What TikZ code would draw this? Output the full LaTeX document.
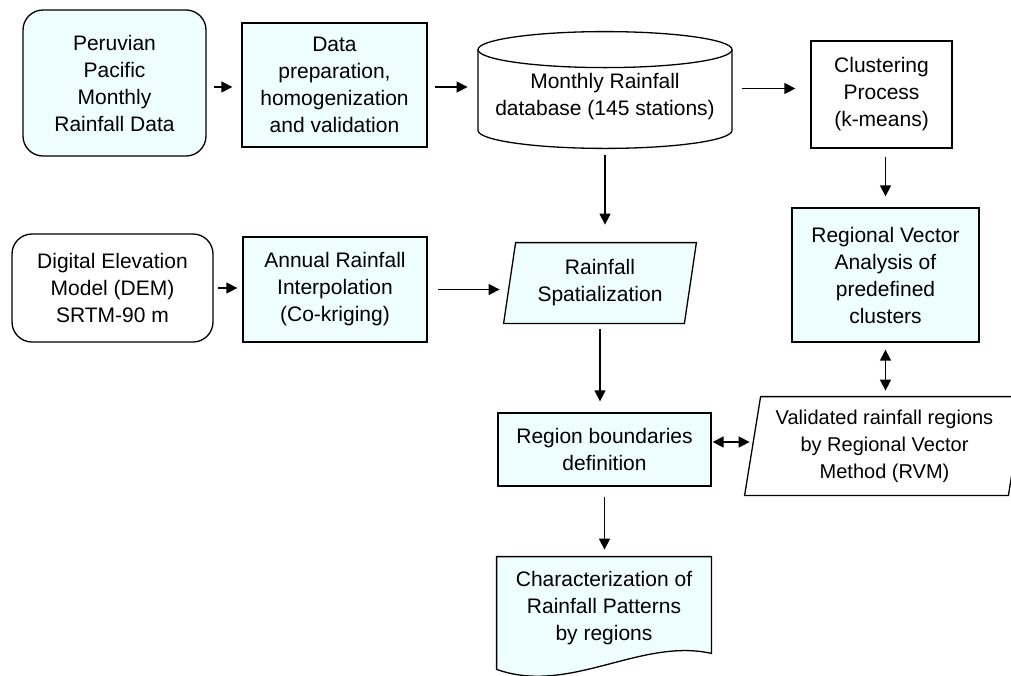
\documentclass[tikz,border=0pt]{standalone}
\usepackage{fontspec}
\setmainfont{Liberation Sans}
\usepackage{xcolor}
\usetikzlibrary{
  calc,
  positioning,
  arrows.meta,
  backgrounds
}
\definecolor{paleaqua}{RGB}{238,254,254}

\begin{document}
\begin{tikzpicture}[> ={Triangle[length=5.5pt,width=5.5pt]}, x=0.5pt, y=-0.5pt]
  \tikzset{
    bare/.style={align=center, inner sep=0pt,
      font=\fontsize{10.5}{13.5}\selectfont},
    box/.style={bare, draw, line width=0.65pt},
    shaded/.style={box, fill=paleaqua},
    outline/.style={line width=0.65pt},
    link/.style={->, line width=0.7pt},
    both/.style={<->, line width=0.7pt},
  }
  \useasboundingbox (0,0) rectangle (1011,675);
  \clip (0,0) rectangle (1011,675);

  % first row
  \node[shaded, rounded corners=10pt, minimum width=91.5pt, minimum height=73pt]
    (peru) at (114.5,83) {Peruvian\\Pacific\\Monthly\\Rainfall Data};
  \node[shaded, minimum width=92.5pt, minimum height=62pt]
    (prep) at (334.5,85) {Data\\preparation,\\homogenization\\and validation};
  \node[bare, minimum width=127pt, minimum height=57pt]
    (db) at (605,97) {Monthly Rainfall\\database (145 stations)};
  \coordinate (dbtop) at ($(db.north)+(0,10)$);
  \coordinate (dbbot) at ($(db.south)+(0,-24)$);
  \draw[outline] (dbtop) ellipse [x radius=63.5pt, y radius=9pt];
  \draw[outline] ($(dbtop)+(-127,0)$) -- ($(dbbot)+(-127,0)$)
    arc[start angle=180, end angle=360, x radius=63.5pt, y radius=9pt]
    -- ($(dbtop)+(127,0)$);
  \node[box, minimum width=70.5pt, minimum height=53.5pt]
    (clus) at (881.5,94.5) {Clustering\\Process\\(k-means)};

  % second row
  \node[box, rounded corners=10pt, minimum width=100.5pt, minimum height=54pt]
    (dem) at (112.5,288) {Digital Elevation\\Model (DEM)\\SRTM-90 m};
  \node[shaded, minimum width=92pt, minimum height=52.5pt]
    (annual) at (335,289.5) {Annual Rainfall\\Interpolation\\(Co-kriging)};
  \node[bare, minimum width=90pt, minimum height=40pt]
    (spat) at (600,283) {Rainfall\\Spatialization};
  \node[shaded, minimum width=93.5pt, minimum height=67pt]
    (rv) at (885.5,275) {Regional Vector\\Analysis of\\predefined\\clusters};

  % lower part
  \node[shaded, minimum width=106.5pt, minimum height=36.5pt]
    (region) at (604.5,449.5) {Region boundaries\\definition};
  \node[bare, font=\fontsize{10}{13.5}\selectfont, minimum width=131.5pt, minimum height=49pt]
    (valid) at (884.5,446) {Validated rainfall regions\\by Regional Vector\\Method (RVM)};
  \draw[outline] ($(valid.north west)+(8,0)$) -- ($(valid.north east)+(8,0)$)
    -- ($(valid.south east)+(-8,0)$) -- ($(valid.south west)+(-8,0)$) -- cycle;
  \node[bare, minimum width=107pt, minimum height=51.5pt]
    (char) at (604,608.5) {Characterization of\\Rainfall Patterns\\by regions};

  \begin{scope}[on background layer]
    \filldraw[outline, fill=paleaqua] ($(spat.north west)+(6,0)$)
      -- ($(spat.north east)+(6,0)$) -- ($(spat.south east)+(-6,0)$)
      -- ($(spat.south west)+(-6,0)$) -- cycle;
    \filldraw[outline, fill=paleaqua] (char.south west) -- (char.north west)
      -- (char.north east) -- ($(char.south east)+(0,-7)$)
      .. controls ($(char.south east)+(-71,-23)$) and ($(char.south west)+(73,35)$)
      .. ($(char.south west)+(0,9)$) -- cycle;
  \end{scope}

  % connectors
  \draw[link, shorten <=3.5pt, shorten >=4.5pt]
    ([yshift=-2pt]peru.east) -- ([yshift=-2pt]peru.east -| prep.west);
  \draw[link, shorten <=3.5pt, shorten >=5pt]
    ([yshift=-1pt]prep.east) -- ([yshift=-1pt]prep.east -| db.west);
  \draw[link, shorten <=5pt, shorten >=7.5pt]
    ([yshift=3pt]clus.west -| db.east) -- ([yshift=3pt]clus.west);
  \draw[link, shorten <=0.5pt, shorten >=9pt] (db.south) -- (db.south |- spat.north);
  \draw[link, shorten <=4pt, shorten >=5.5pt] (rv.north |- clus.south) -- (rv.north);
  \draw[link, shorten <=2pt, shorten >=2.5pt] (dem.east) -- (dem.east -| annual.west);
  \draw[link, shorten <=5pt, shorten >=5pt] (annual.east) -- (annual.east -| spat.west);
  \draw[link, shorten <=3pt, shorten >=5.5pt] (spat.south) -- (spat.south |- region.north);
  \draw[both, shorten <=3.5pt, shorten >=3pt] (rv.south) -- (rv.south |- valid.north);
  \draw[both, shorten <=0.5pt, shorten >=1.5pt]
    ([yshift=3.75pt]region.east) -- ([yshift=3.75pt]region.east -| valid.west);
  \draw[link, shorten <=5pt, shorten >=3.5pt] (region.south) -- (region.south |- char.north);
\end{tikzpicture}
\end{document}
